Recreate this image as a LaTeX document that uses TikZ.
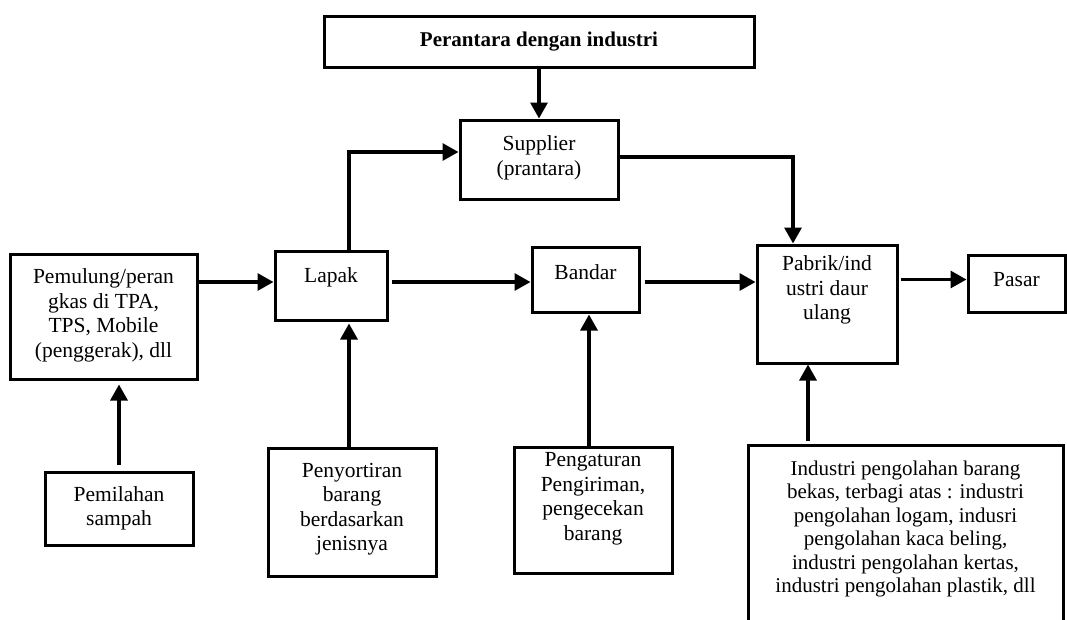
\documentclass[tikz,border=0pt]{standalone}
\usepackage{fontspec}
\setmainfont{Liberation Serif}
\usetikzlibrary{arrows.meta}
\begin{document}
\begin{tikzpicture}[x=1pt,y=-1pt,
  box/.style={draw=black, line width=3pt, rectangle, inner sep=0pt, fill=none},
  txt/.style={align=center, inner sep=0pt, font=\fontsize{21.5}{24.5}\selectfont, text=black},
  arr/.style={line width=3.2pt, -{Triangle[length=16pt,width=17pt]}},
  ln/.style={line width=3.2pt}]
\useasboundingbox (0,0) rectangle (1067,619);
\clip (0,0) rectangle (1067,619);
\fill[white] (0,0) rectangle (1067,619);
% boxes
\node[box, minimum width=430pt, minimum height=51pt] (top) at (539,41.5) {};
\node[box, minimum width=158pt, minimum height=79pt] (supplier) at (539,159.5) {};
\node[box, minimum width=187pt, minimum height=125pt] (pemulung) at (103.5,316.5) {};
\node[box, minimum width=112pt, minimum height=69pt] (lapak) at (331,285.5) {};
\node[box, minimum width=107pt, minimum height=65pt] (bandar) at (585.5,279.5) {};
\node[box, minimum width=140pt, minimum height=118pt] (pabrik) at (827,304) {};
\node[box, minimum width=97pt, minimum height=57pt] (pasar) at (1016.5,283.5) {};
\node[box, minimum width=148pt, minimum height=73pt] (pemilahan) at (119,508.5) {};
\node[box, minimum width=168pt, minimum height=128pt] (penyortiran) at (352,512) {};
\node[box, minimum width=158pt, minimum height=126pt] (pengaturan) at (593,510) {};
\node[box, minimum width=315pt, minimum height=215pt] (industri) at (905.5,552.5) {};
% texts
\node[txt, font=\fontsize{21}{24.5}\selectfont\bfseries] (top-t) at (539,42) {Perantara dengan industri};
\node[txt, yshift=1.5pt] (supplier-t) at (supplier) {Supplier\\(prantara)};
\node[txt, yshift=1pt] (pemulung-t) at (pemulung) {Pemulung/peran\\gkas di TPA,\\TPS, Mobile\\(penggerak), dll};
\node[txt, yshift=8pt] (lapak-t) at (lapak) {Lapak};
\node[txt, yshift=7.5pt] (bandar-t) at (bandar) {Bandar};
\node[txt, yshift=14pt] (pabrik-t) at (pabrik) {Pabrik/ind\\ustri daur\\ulang};
\node[txt, yshift=3.5pt] (pasar-t) at (pasar) {Pasar};
\node[txt] (pemilahan-t) at (pemilahan) {Pemilahan\\sampah};
\node[txt, yshift=3pt] (penyortiran-t) at (penyortiran) {Penyortiran\\barang\\berdasarkan\\jenisnya};
\node[txt, yshift=11pt] (pengaturan-t) at (pengaturan) {Pengaturan\\Pengiriman,\\pengecekan\\barang};
\node[txt, font=\fontsize{21}{23.5}\selectfont] (industri-t) at (905.5,529) {Industri pengolahan barang\\bekas, terbagi atas : industri\\pengolahan logam, indusri\\pengolahan kaca beling,\\industri pengolahan kertas,\\industri pengolahan plastik, dll};
% connectors
\draw[arr] (top) -- (supplier);
\draw[arr] ([xshift=18pt]lapak.north) |- ([yshift=7.5pt]supplier.west);
\draw[arr] ([yshift=2.5pt]supplier.east) -| ([xshift=-34pt]pabrik.north);
\draw[arr] ([yshift=3.5pt]pemulung.east |- lapak.west) -- ([yshift=3.5pt]lapak.west);
\draw[arr, shorten <=3pt] ([yshift=-2.5pt]lapak.east |- bandar.west) -- ([yshift=-2.5pt]bandar.west);
\draw[arr, shorten <=4pt] ([yshift=-2.5pt]bandar.east) -- ([yshift=-2.5pt]bandar.east -| pabrik.west);
\draw[arr, shorten <=2pt] ([yshift=4pt]pabrik.east |- pasar.west) -- ([yshift=4pt]pasar.west);
\draw[arr] ([yshift=6pt]pemilahan.north) -- ([yshift=-4pt]pemilahan.north |- pemulung.south);
\draw[arr] ([xshift=-3pt]penyortiran.north) -- ([xshift=-3pt,yshift=-2pt]penyortiran.north |- lapak.south);
\draw[arr] ([xshift=-4pt]pengaturan.north) -- ([xshift=-4pt,yshift=-1pt]pengaturan.north |- bandar.south);
\draw[arr] ([xshift=-97.5pt,yshift=3pt]industri.north) -- ([xshift=-97.5pt]industri.north |- pabrik.south);
\end{tikzpicture}
\end{document}
